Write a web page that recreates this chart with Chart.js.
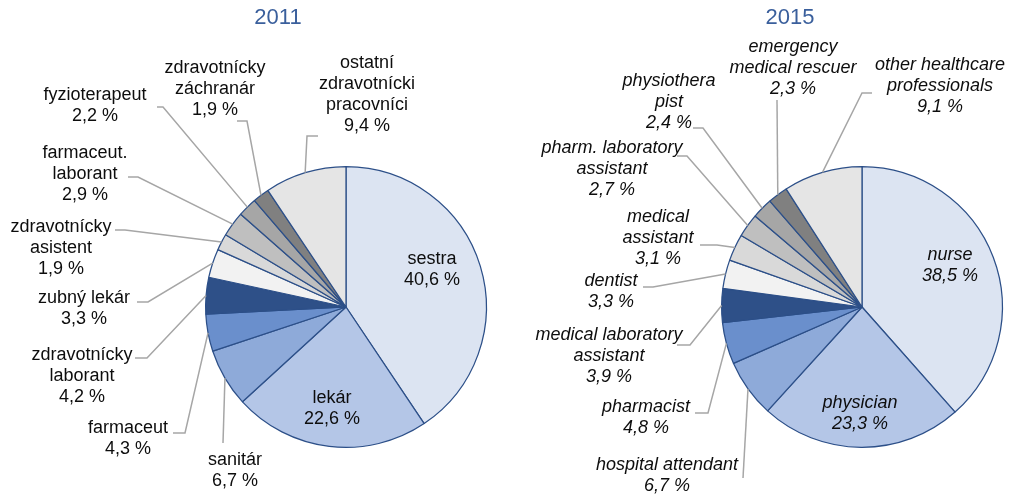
<!DOCTYPE html>
<html>
<head>
<meta charset="utf-8">
<script src="https://cdn.jsdelivr.net/npm/chart.js@4"></script>
<style>
  html, body { margin: 0; padding: 0; background: #fff; }
  #wrap { position: relative; width: 1012px; height: 494px; }
  canvas { position: absolute; top: 0; }
</style>
</head>
<body>
<div id="wrap">
  <canvas id="pie2011" width="506" height="494" style="left:0"></canvas>
  <canvas id="pie2015" width="506" height="494" style="left:506px"></canvas>
</div>
<script>
// data
const cats2011 = ["sestra", "lekár", "sanitár", "farmaceut", "zdravotnícky\nlaborant", "zubný lekár",
  "zdravotnícky\nasistent", "farmaceut.\nlaborant", "fyzioterapeut", "zdravotnícky\nzáchranár",
  "ostatní\nzdravotnícki\npracovníci"];
const values2011 = [40.6, 22.6, 6.7, 4.3, 4.2, 3.3, 1.9, 2.9, 2.2, 1.9, 9.4];

const cats2015 = ["nurse", "physician", "hospital attendant", "pharmacist", "medical laboratory\nassistant",
  "dentist", "medical\nassistant", "pharm. laboratory\nassistant", "physiothera\npist",
  "emergency\nmedical rescuer", "other healthcare\nprofessionals"];
const values2015 = [38.5, 23.3, 6.7, 4.8, 3.9, 3.3, 3.1, 2.7, 2.4, 2.3, 9.1];

const sliceColors = ["#dce4f2", "#b4c6e7", "#8eaad9", "#6a8fcc", "#2e5088", "#f2f2f2",
  "#d9d9d9", "#bfbfbf", "#a6a6a6", "#808080", "#e5e5e5"];

// label layout, relative to pie centre: text [dx, dy], leader elbow [ex, ey], horizontal end hx
const layout2011 = [
  { t: [86, -48] },
  { t: [-14, 91] },
  { t: [-111, 153], e: [-123, 136], h: -123 },
  { t: [-218, 121], e: [-161, 126], h: -173 },
  { t: [-264, 48], e: [-199, 51], h: -211 },
  { t: [-262, -9], e: [-198, -5], h: -209 },
  { t: [-285, -80], e: [-221, -77], h: -231 },
  { t: [-261, -154], e: [-208, -130], h: -218 },
  { t: [-251, -212], e: [-183, -200], h: -189 },
  { t: [-131, -239], e: [-99, -186], h: -109 },
  { t: [21, -244], e: [-39, -171], h: -28 }
];
const layout2015 = [
  { t: [88, -52] },
  { t: [-2, 96] },
  { t: [-195, 158], e: [-119, 171], h: -119 },
  { t: [-216, 100], e: [-154, 106], h: -167 },
  { t: [-253, 28], e: [-172, 38], h: -185 },
  { t: [-251, -26], e: [-209, -20], h: -219 },
  { t: [-204, -90], e: [-145, -62], h: -162 },
  { t: [-250, -159], e: [-175, -151], h: -185 },
  { t: [-193, -226], e: [-159, -179], h: -169 },
  { t: [-69, -260], e: [-85, -207], h: -85 },
  { t: [78, -242], e: [0, -214], h: 10 }
];

function fmt(v) {
  return v.toFixed(1).replace(".", ",") + " %";
}

// draws the title, leader lines and labels
const labelPlugin = {
  id: "pieLabels",
  afterDatasetsDraw(chart, args, opts) {
    const ctx = chart.ctx;
    const arcs = chart.getDatasetMeta(0).data;
    const values = chart.data.datasets[0].data;
    const cx = arcs[0].x, cy = arcs[0].y;
    ctx.save();

    ctx.fillStyle = "#3a5f9c";
    ctx.font = "22px 'Liberation Sans', Arial, sans-serif";
    ctx.textAlign = "center";
    ctx.textBaseline = "middle";
    ctx.fillText(opts.title, opts.titleX, 18);

    ctx.strokeStyle = "#a6a6a6";
    ctx.lineWidth = 1.5;
    arcs.forEach((arc, i) => {
      const l = opts.layout[i];
      if (!l.e) return;
      const mid = (arc.startAngle + arc.endAngle) / 2;
      ctx.beginPath();
      ctx.moveTo(cx + Math.cos(mid) * arc.outerRadius, cy + Math.sin(mid) * arc.outerRadius);
      ctx.lineTo(cx + l.e[0], cy + l.e[1]);
      ctx.lineTo(cx + l.h, cy + l.e[1]);
      ctx.stroke();
    });

    ctx.fillStyle = "#0d0d0d";
    ctx.font = (opts.italic ? "italic " : "") + "18px 'Liberation Sans', Arial, sans-serif";
    chart.data.labels.forEach((lab, i) => {
      const l = opts.layout[i];
      const lines = lab.split("\n").concat([fmt(values[i])]);
      lines.forEach((s, k) => {
        ctx.fillText(s, cx + l.t[0], cy + l.t[1] + k * 21);
      });
    });
    ctx.restore();
  }
};

function makePie(id, cats, values, layout, title, titleX, italic, padLeft, padRight) {
  return new Chart(document.getElementById(id), {
    type: "pie",
    data: {
      labels: cats,
      datasets: [{
        data: values,
        backgroundColor: sliceColors,
        borderColor: "#2c4f88",
        borderWidth: 1.25
      }]
    },
    options: {
      responsive: false,
      animation: false,
      layout: { padding: { left: padLeft, right: padRight, top: 166, bottom: 46 } },
      plugins: {
        legend: { display: false },
        tooltip: { enabled: false },
        pieLabels: { layout: layout, title: title, titleX: titleX, italic: italic }
      }
    },
    plugins: [labelPlugin]
  });
}

makePie("pie2011", cats2011, values2011, layout2011, "2011", 278, false, 205, 19);
makePie("pie2015", cats2015, values2015, layout2015, "2015", 284, true, 215, 9);
</script>
</body>
</html>
